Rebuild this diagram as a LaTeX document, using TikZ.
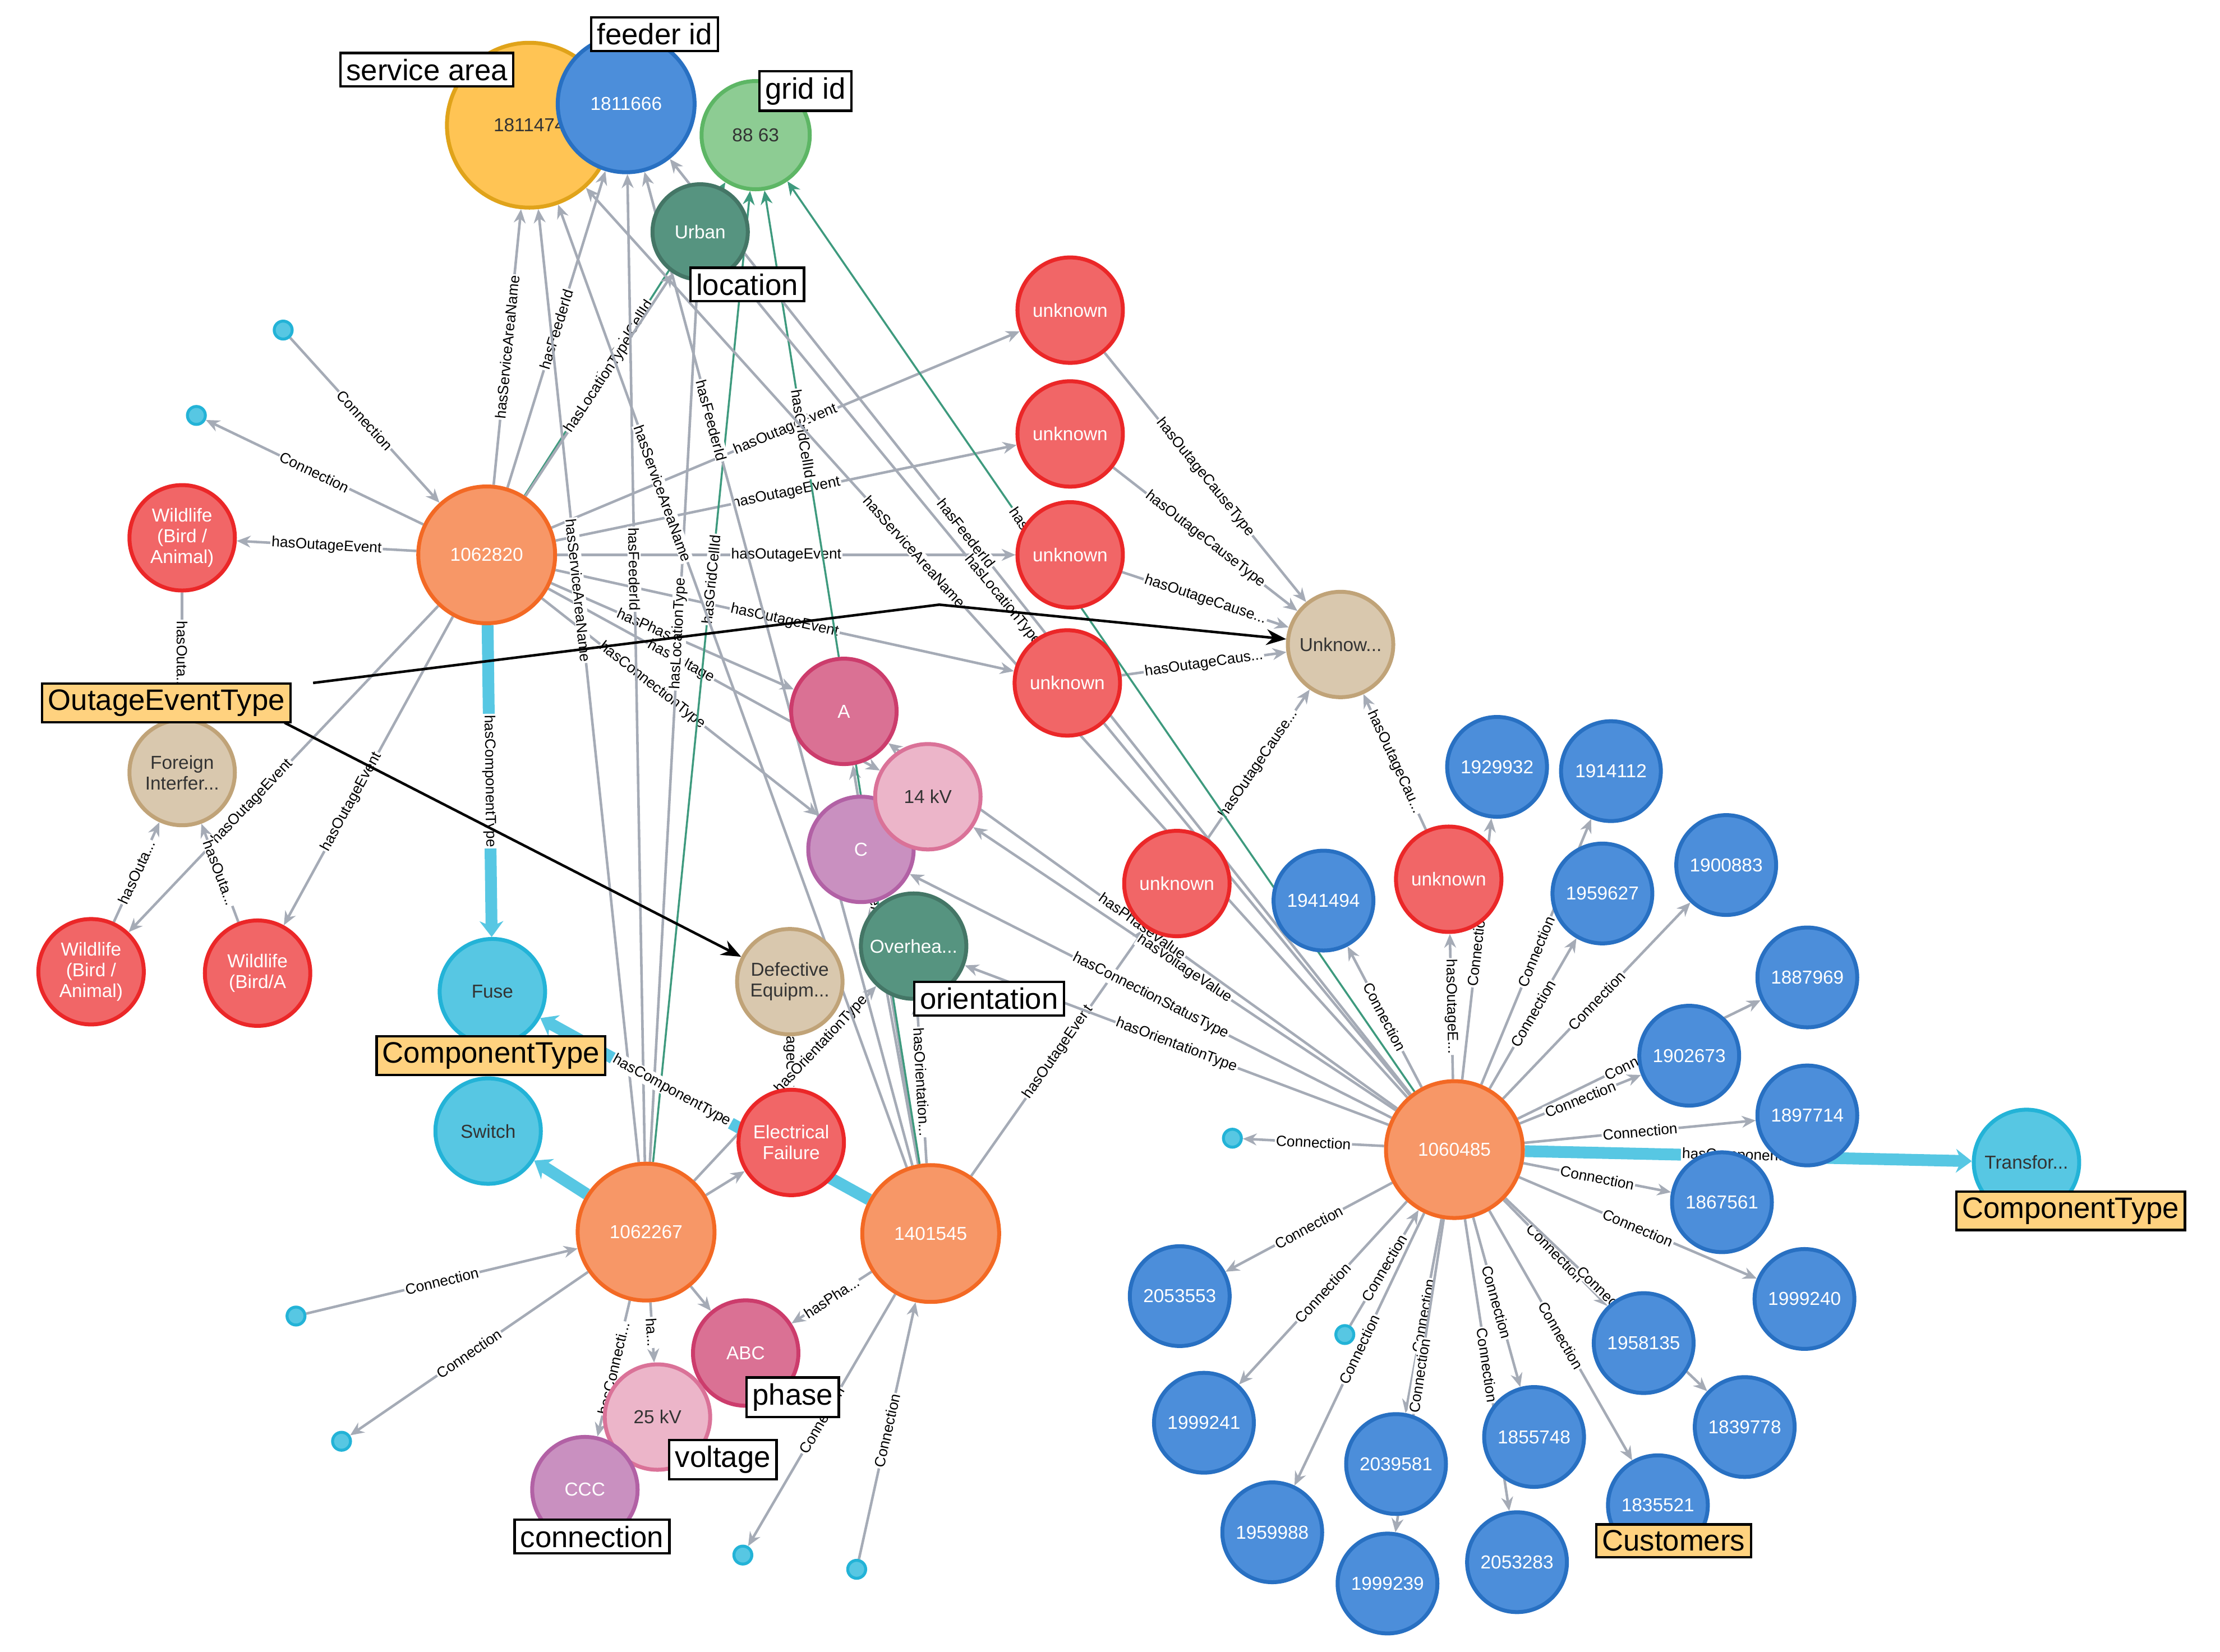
\documentclass[tikz,border=0pt]{standalone}
\usepackage{fontspec}
\setmainfont{Liberation Sans}
\usetikzlibrary{arrows.meta,backgrounds}
\definecolor{eg}{HTML}{A5ABB6}
\definecolor{org}{HTML}{F79767}\definecolor{orgb}{HTML}{F36924}
\definecolor{blu}{HTML}{4C8EDA}\definecolor{blub}{HTML}{2870C2}
\definecolor{red}{HTML}{F16667}\definecolor{redb}{HTML}{EB2728}
\definecolor{tan}{HTML}{D9C8AE}\definecolor{tanb}{HTML}{C0A378}
\definecolor{cya}{HTML}{57C7E3}\definecolor{cyab}{HTML}{23B3D7}
\definecolor{yel}{HTML}{FFC454}\definecolor{yelb}{HTML}{E0A31A}
\definecolor{grn}{HTML}{8DCC93}\definecolor{grnb}{HTML}{5DB665}
\definecolor{dgr}{HTML}{569480}\definecolor{dgrb}{HTML}{447666}
\definecolor{pnk}{HTML}{DA7194}\definecolor{pnkb}{HTML}{CC3C6C}
\definecolor{lpk}{HTML}{ECB5C9}\definecolor{lpkb}{HTML}{DA7298}
\definecolor{pur}{HTML}{C990C0}\definecolor{purb}{HTML}{B261A5}
\definecolor{lab}{HTML}{FFD27F}
\definecolor{gline}{HTML}{3E9A7E}
\tikzset{
 x=0.02537cm,y=-0.02537cm,
 nd/.style={circle,line width=2pt,inner sep=0pt,align=center,font=\fontsize{9.5}{10.5}\selectfont,text=white},
 o/.style={nd,fill=org,draw=orgb,minimum size=2.44cm},
 b/.style={nd,fill=blu,draw=blub,minimum size=1.78cm},
 r/.style={nd,fill=red,draw=redb,minimum size=1.88cm},
 t/.style={nd,fill=tan,draw=tanb,minimum size=1.88cm,text=black!80},
 c/.style={nd,fill=cya,draw=cyab,minimum size=1.88cm,text=black!80},
 dg/.style={nd,fill=dgr,draw=dgrb,minimum size=1.7cm},
 pk/.style={nd,fill=pnk,draw=pnkb,minimum size=1.88cm},
 lp/.style={nd,fill=lpk,draw=lpkb,minimum size=1.88cm,text=black!80},
 pu/.style={nd,fill=pur,draw=purb,minimum size=1.88cm},
 dot/.style={circle,fill=cya,draw=cyab,line width=1.5pt,minimum size=0.32cm,inner sep=0pt},
 e/.style={draw=eg,line width=1.3pt,-{Stealth[length=7pt,width=6pt]}},
 ge/.style={draw=gline,line width=1pt,-{Stealth[length=7pt,width=6pt]}},
 th/.style={draw=cya,line width=6pt,-{Stealth[length=8pt,width=12pt]}},
 el/.style={font=\fontsize{7.5}{8}\selectfont,sloped,fill=white,inner sep=0.6pt},
 wb/.style={draw=black,line width=1.2pt,fill=white,font=\fontsize{15}{16}\selectfont,inner sep=3pt},
 yb/.style={wb,fill=lab},
 ba/.style={draw=black,line width=1.3pt,-{Stealth[length=10pt,width=8pt]}},
}
\begin{document}
\begin{tikzpicture}
\useasboundingbox (0,0) rectangle (1560,1161);
% nodes
\node[nd,fill=yel,draw=yelb,minimum size=2.94cm,text=black!80] (sa) at (372,88) {1811474};
\node[nd,fill=blu,draw=blub,minimum size=2.44cm] (fd) at (440,73) {1811666};
\node[nd,fill=grn,draw=grnb,minimum size=1.93cm,text=black!80] (gr) at (531,95) {88 63};
\node[dg] (ur) at (492,163) {Urban};
\node[r] (u1) at (752,218) {unknown};
\node[r] (u2) at (752,305) {unknown};
\node[r] (u3) at (752,390) {unknown};
\node[r] (u4) at (750,480) {unknown};
\node[t] (unk) at (942,453) {Unknow...};
\node[o] (a) at (342,390) {1062820};
\node[r] (w1) at (128,378) {Wildlife\\(Bird /\\Animal)};
\node[t] (fi) at (128,543) {Foreign\\Interfer...};
\node[r] (w2) at (64,683) {Wildlife\\(Bird /\\Animal)};
\node[r] (w3) at (181,684) {Wildlife\\(Bird/A};
\node[c] (fuse) at (346,697) {Fuse};
\node[c] (sw) at (343,795) {Switch};
\node[pk] (A) at (593,500) {A};
\node[pu] (C) at (605,597) {C};
\node[lp] (kv14) at (652,560) {14 kV};
\node[dg,minimum size=1.88cm] (ov) at (642,665) {Overhea...};
\node[t] (de) at (555,690) {Defective\\Equipm...};
\node[r] (ef) at (556,803) {Electrical\\Failure};
\node[o] (b) at (454,866) {1062267};
\node[o] (d) at (654,867) {1401545};
\node[pk] (abc) at (524,951) {ABC};
\node[lp] (kv25) at (462,996) {25 kV};
\node[pu] (ccc) at (411,1047) {CCC};
\node[r] (u5) at (827,621) {unknown};
\node[r] (u6) at (1018,618) {unknown};
\node[b] (n1941494) at (930,633) {1941494};
\node[o] (e) at (1022,808) {1060485};
\node[c] (tr) at (1424,817) {Transfor...};
\foreach \n/\x/\y in {1929932/1052/539,1914112/1132/542,1959627/1126/628,1900883/1213/608,1887969/1270/687,1902673/1187/742,1897714/1270/784,1867561/1210/845,1999240/1268/913,2053553/829/911,1999241/846/1000,1958135/1155/944,1839778/1226/1003,2039581/981/1029,1855748/1078/1010,1835521/1165/1058,1959988/894/1077,1999239/975/1113,2053283/1066/1098}
  \node[b] (n\n) at (\x,\y) {\n};
\node[dot] (p1) at (199,232) {};
\node[dot] (p2) at (138,292) {};
\node[dot] (p3) at (866,800) {};
\node[dot] (p4) at (208,925) {};
\node[dot] (p5) at (240,1013) {};
\node[dot] (p6) at (522,1093) {};
\node[dot] (p7) at (602,1103) {};
\node[dot] (p8) at (945,938) {};
\begin{scope}[on background layer]
% 1062820
\draw[e] (a) -- node[el]{hasServiceAreaName} (sa);
\draw[e] (a) -- node[el]{hasFeederId} (fd);
\draw[ge] (a) -- node[el]{hasGridCellId} (gr);
\draw[e] (a) -- node[el]{hasLocationType} (ur);
\foreach \u in {u1,u2,u3,u4} \draw[e] (a) -- node[el]{hasOutageEvent} (\u);
\draw[e] (a) -- node[el]{hasOutageEvent} (w1);
\draw[e] (a) -- node[el,pos=0.6]{hasOutageEvent} (w2);
\draw[e] (a) -- node[el,pos=0.6]{hasOutageEvent} (w3);
\draw[th] (a) -- node[el]{hasComponentType} (fuse);
\draw[e] (a) -- node[el,pos=0.4]{hasPhase} (A);
\draw[e] (a) -- node[el,pos=0.4]{hasVoltage} (kv14);
\draw[e] (a) -- node[el,pos=0.4]{hasConnectionType} (C);
\draw[e] (p1) -- node[el]{Connection} (a);
\draw[e] (a) -- node[el]{Connection} (p2);
\draw[e] (w1) -- node[el]{hasOuta...} (fi);
\draw[e] (w2) -- node[el]{hasOuta...} (fi);
\draw[e] (w3) -- node[el]{hasOuta...} (fi);
\draw[e] (u1) -- node[el]{hasOutageCauseType} (unk);
\draw[e] (u2) -- node[el]{hasOutageCauseType} (unk);
\draw[e] (u3) -- node[el]{hasOutageCause...} (unk);
\draw[e] (u4) -- node[el]{hasOutageCaus...} (unk);
\draw[e] (u5) -- node[el]{hasOutageCause...} (unk);
\draw[e] (u6) -- node[el]{hasOutageCau...} (unk);
% 1062267
\draw[e] (b) -- node[el,pos=0.6]{hasServiceAreaName} (sa);
\draw[e] (b) -- node[el,pos=0.6]{hasFeederId} (fd);
\draw[ge] (b) -- node[el,pos=0.6]{hasGridCellId} (gr);
\draw[e] (b) -- node[el,pos=0.6]{hasLocationType} (ur);
\draw[th] (b) -- (sw);
\draw[e] (b) -- (ef);
\draw[e] (ef) -- node[el]{hasOutageCauseType} (de);
\draw[e] (b) -- (abc);
\draw[e] (b) -- node[el]{ha...} (kv25);
\draw[e] (b) -- node[el]{hasConnecti...} (ccc);
\draw[e] (b) -- node[el,pos=0.7]{hasOrientationType} (ov);
\draw[e] (p4) -- node[el]{Connection} (b);
\draw[e] (b) -- node[el]{Connection} (p5);
% 1401545
\draw[th] (d) -- node[el,pos=0.6]{hasComponentType} (fuse);
\draw[e] (d) -- node[el]{hasOrientation...} (ov);
\draw[e] (d) -- (C);
\draw[e] (d) -- node[el,pos=0.65]{hasServiceAreaName} (A);
\draw[e] (d) -- node[el,pos=0.7]{hasServiceAreaName} (sa);
\draw[e] (d) -- node[el,pos=0.75]{hasFeederId} (fd);
\draw[ge] (d) -- node[el,pos=0.75]{hasGridCellId} (gr);
\draw[e] (d) -- node[el]{hasOutageEvent} (u5);
\draw[e] (d) -- node[el]{hasPha...} (abc);
\draw[e] (d) -- node[el]{Connection} (p6);
\draw[e] (p7) -- node[el]{Connection} (d);
% 1060485
\draw[e] (e) -- node[el,pos=0.6]{hasServiceAreaName} (sa);
\draw[e] (e) -- node[el,pos=0.6]{hasFeederId} (fd);
\draw[ge] (e) -- node[el,pos=0.6]{hasGridCellId} (gr);
\draw[e] (e) -- node[el,pos=0.6]{hasLocationType} (ur);
\draw[e] (e) -- node[el]{hasVoltageValue} (kv14);
\draw[e] (e) -- node[el]{hasPhaseValue} (A);
\draw[e] (e) -- node[el]{hasConnectionStatusType} (C);
\draw[e] (e) -- node[el]{hasOrientationType} (ov);
\draw[e] (e) -- node[el]{hasOutageE...} (u6);
\draw[e] (e) -- node[el]{Connection} (n1941494);
\draw[e] (e) -- node[el]{Connection} (p3);
\draw[e] (p8) -- node[el]{Connection} (e);
\draw[th] (e) -- node[el]{hasComponentType} (tr);
\foreach \n in {1929932,1914112,1959627,1900883,1887969,1902673,1897714,1867561,1999240,2053553,1999241,1958135,1839778,2039581,1855748,1835521,1959988,1999239,2053283}
  \draw[e] (e) -- node[el]{Connection} (n\n);
\end{scope}
% black arrows
\draw[ba] (220,480) -- (660,425) -- (unk);
\draw[ba] (200,508) -- (de);
% boxes
\node[wb] at (300,49) {service area};
\node[wb] at (460,24) {feeder id};
\node[wb] at (566,64) {grid id};
\node[wb] at (525,200) {location};
\node[wb] at (695,702) {orientation};
\node[wb] at (557,982) {phase};
\node[wb] at (508,1026) {voltage};
\node[wb] at (416,1080) {connection};
\node[yb] at (117,494) {OutageEventType};
\node[yb] at (345,742) {ComponentType};
\node[yb] at (1455,851) {ComponentType};
\node[yb] at (1176,1083) {Customers};
\end{tikzpicture}
\end{document}
